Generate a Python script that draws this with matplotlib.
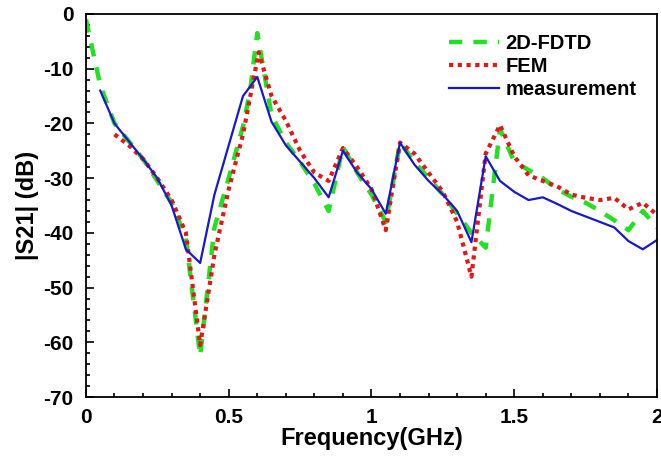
import matplotlib.pyplot as plt
from matplotlib.ticker import MultipleLocator

# |S21| curves
f_fdtd = [0.0, 0.05, 0.1, 0.2, 0.3, 0.35, 0.4, 0.45, 0.5, 0.55, 0.575, 0.6,
          0.65, 0.7, 0.75, 0.8, 0.85, 0.9, 0.95, 1.0, 1.05, 1.1, 1.15, 1.2,
          1.25, 1.3, 1.35, 1.4, 1.45, 1.5, 1.55, 1.6, 1.65, 1.7, 1.75, 1.8,
          1.85, 1.9, 1.95, 2.0]
s_fdtd = [-1, -13, -20, -26.5, -34.5, -41, -62.5, -39, -30, -20.5, -14, -3.5,
          -18.5, -23.5, -27, -31, -36, -24.3, -29, -33, -38, -23.5, -27, -30,
          -33, -36.5, -40, -42.7, -21, -27, -28.5, -30, -32, -33.4, -34.5, -36,
          -37.7, -39.5, -36, -39]

f_fem = [0.1, 0.15, 0.2, 0.25, 0.3, 0.35, 0.4, 0.45, 0.5, 0.55, 0.605,
         0.65, 0.7, 0.75, 0.8, 0.85, 0.9, 0.95, 1.0, 1.05, 1.1, 1.15, 1.2,
         1.25, 1.3, 1.35, 1.4, 1.45, 1.5, 1.55, 1.6, 1.65, 1.7, 1.75, 1.8,
         1.85, 1.9, 1.95, 2.0]
s_fem = [-22, -24, -26.5, -30, -34, -40, -60.5, -44, -32, -22, -7,
         -15, -19.5, -25, -29, -30.5, -24.5, -28, -32, -39.5, -23.5, -25.5, -29,
         -32.5, -38, -48, -25.5, -20.3, -26, -29.5, -30.5, -31.5, -33, -33.6, -34,
         -33.6, -35.7, -34.5, -36.7]

f_meas = [0.05, 0.1, 0.2, 0.25, 0.3, 0.35, 0.4, 0.45, 0.55, 0.6, 0.65, 0.7,
          0.75, 0.8, 0.85, 0.9, 0.95, 1.0, 1.05, 1.1, 1.15, 1.2, 1.25, 1.3,
          1.35, 1.4, 1.45, 1.5, 1.55, 1.6, 1.65, 1.7, 1.75, 1.8, 1.85, 1.9,
          1.95, 2.0]
s_meas = [-14, -20, -26.5, -30, -35, -43, -45.5, -33, -15, -11.5, -19.7, -24,
          -27, -30, -33.5, -25, -29, -32, -36.5, -23.5, -27.5, -30.5, -33, -36,
          -41.7, -26, -30.5, -32.5, -34, -33.5, -34.7, -36, -37, -38, -39, -41.5,
          -43, -41.3]

plt.rcParams['font.family'] = ['Liberation Sans', 'DejaVu Sans']
plt.rcParams['font.weight'] = 'bold'
plt.rcParams['axes.unicode_minus'] = False

fig = plt.figure(figsize=(6.61, 4.59), dpi=100)
ax = fig.add_axes([0.130, 0.135, 0.864, 0.8345])

ax.plot(f_fdtd, s_fdtd, color='#22e022', lw=3.2, ls=(0, (3, 2.5)), label='2D-FDTD')
ax.plot(f_fem, s_fem, color='#e01818', lw=3.0, ls=(0, (1.0, 1.1)), label='FEM')
ax.plot(f_meas, s_meas, color='#1818cc', lw=1.6, label='measurement')

ax.set_xlim(0, 2)
ax.set_ylim(-70, 0)
ax.xaxis.set_minor_locator(MultipleLocator(0.1))
ax.yaxis.set_major_locator(MultipleLocator(10))
ax.yaxis.set_minor_locator(MultipleLocator(2))
ax.set_xticks([0, 0.5, 1, 1.5, 2])
ax.set_xticklabels(['0', '0.5', '1', '1.5', '2'])

ax.tick_params(which='both', direction='in', top=False, right=False,
               labelsize=15, width=1.2)
ax.tick_params(axis='x', pad=8)
ax.tick_params(axis='y', pad=9)
ax.tick_params(which='major', length=6)
ax.tick_params(which='minor', length=3)
for s in ax.spines.values():
    s.set_linewidth(1.3)

ax.set_xlabel('Frequency(GHz)', fontsize=17, fontweight='bold', labelpad=0)
ax.set_ylabel('|S21| (dB)', fontsize=17, fontweight='bold', labelpad=3)

ax.legend(loc='upper right', bbox_to_anchor=(0.985, 0.98), frameon=False,
          fontsize=14.5, handlelength=2.5, handletextpad=0.3, labelspacing=0.2,
          borderaxespad=0.2)

fig.savefig('out.png', dpi=100)
